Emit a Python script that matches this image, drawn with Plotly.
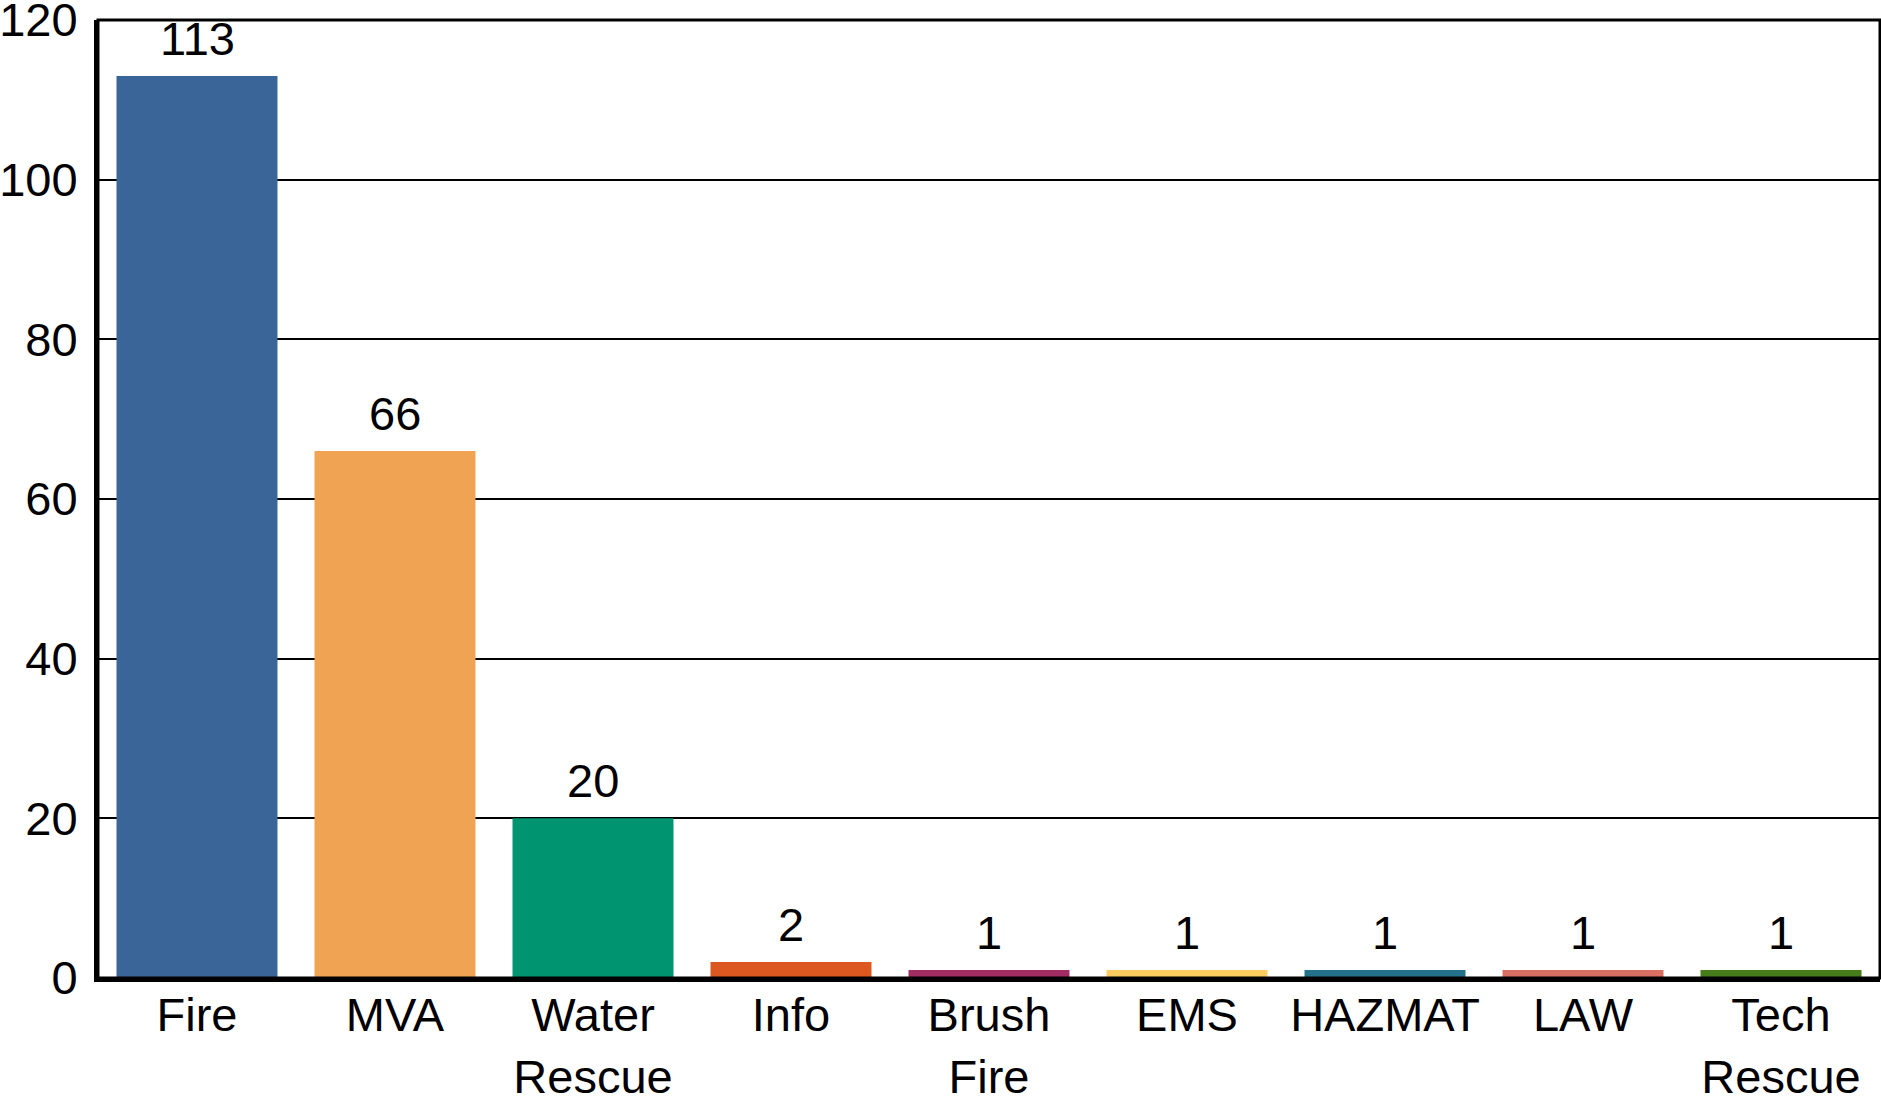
import plotly.graph_objects as go

categories = ["Fire", "MVA", "Water<br>Rescue", "Info", "Brush<br>Fire", "EMS", "HAZMAT", "LAW", "Tech<br>Rescue"]
values = [113, 66, 20, 2, 1, 1, 1, 1, 1]
colors = ["#3A6598", "#EFA353", "#009471", "#DD5820", "#A12D62", "#FDCD60", "#23718A", "#D96F62", "#467C1A"]
y_ticks = [0, 20, 40, 60, 80, 100, 120]

FONT = "Liberation Sans, Arial, sans-serif"
FS = 47

fig = go.Figure(go.Bar(
    x=categories,
    y=values,
    marker=dict(color=colors, line=dict(width=0)),
    cliponaxis=False,
    hoverinfo="x+y",
))

# value labels above bars, positioned from the data through the axes
for c, v in zip(categories, values):
    fig.add_annotation(x=c, y=v, text=str(v), showarrow=False,
                       yanchor="bottom", yshift=9,
                       font=dict(family=FONT, size=FS, color="black"))

fig.update_layout(
    width=1881, height=1098,
    margin=dict(l=98, r=1, t=20, b=120),
    plot_bgcolor="white", paper_bgcolor="white",
    bargap=0.187,
    showlegend=False,
    font=dict(family=FONT, size=FS, color="black"),
)
fig.update_xaxes(
    showline=True, linecolor="black", linewidth=4,
    showgrid=False, ticks="", tickfont=dict(size=FS),
    ticklabelstandoff=-7, automargin=False,
    ticklabeloverflow="allow",
)
fig.update_yaxes(
    range=[0, 120], tickvals=y_ticks,
    showline=True, linecolor="black", linewidth=4,
    showgrid=True, gridcolor="black", gridwidth=2,
    zeroline=False, ticks="", tickfont=dict(size=FS),
    ticklabelstandoff=7, automargin=False,
    ticklabeloverflow="allow",
)
fig.add_shape(type="rect", xref="paper", yref="paper", x0=0, x1=1, y0=0, y1=1,
              line=dict(color="black", width=3), layer="above")

# remove the default 8px page margin so the figure fills the window exactly
fig.write_html("out.html", config={"displayModeBar": False},
               post_script="document.body.style.margin='0px';")
